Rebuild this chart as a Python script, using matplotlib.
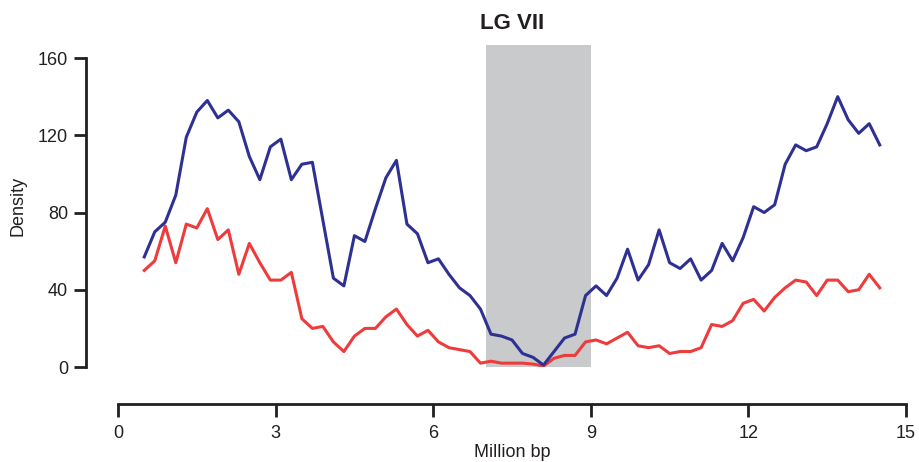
import numpy as np
import matplotlib.pyplot as plt

plt.rcParams['font.family'] = ['Liberation Sans', 'DejaVu Sans']

# positions along the linkage group (Mb), one window every 0.2 Mb
positions = np.round(np.arange(0.5, 14.51, 0.2), 1)

blue_density = [57, 70, 75, 89, 119, 132, 138, 129, 133, 127,
                109, 97, 114, 118, 97, 105, 106, 76, 46, 42,
                68, 65, 82, 98, 107, 74, 69, 54, 56, 48,
                41, 37, 30, 17, 16, 14, 7, 5, 1, 8,
                15, 17, 37, 42, 37, 46, 61, 45, 53, 71,
                54, 51, 56, 45, 50, 64, 55, 67, 83, 80,
                84, 105, 115, 112, 114, 126, 140, 128, 121, 126,
                115]

red_density = [50, 55, 73, 54, 74, 72, 82, 66, 71, 48,
               64, 54, 45, 45, 49, 25, 20, 21, 13, 8,
               16, 20, 20, 26, 30, 22, 16, 19, 13, 10,
               9, 8, 2, 3, 2, 2, 2, 1.5, 0.5, 4.5,
               6, 6, 13, 14, 12, 15, 18, 11, 10, 11,
               7, 8, 8, 10, 22, 21, 24, 33, 35, 29,
               36, 41, 45, 44, 37, 45, 45, 39, 40, 48,
               41]

region_start, region_end = 7, 9
region_top = 167

fig = plt.figure(figsize=(9.19, 4.62), dpi=100)
ax = fig.add_axes([118 / 919, 95 / 462, 788 / 919, 322.5 / 462])

ax.axvspan(region_start, region_end, ymin=0, ymax=1, color='#c8cacb', lw=0, zorder=0)
ax.plot(positions, blue_density, color='#2e3192', lw=2.2, zorder=3)
ax.plot(positions, red_density, color='#ee3b3b', lw=2.2, zorder=2)

ax.set_xlim(0, 15)
ax.set_ylim(0, region_top)
ax.set_xticks([0, 3, 6, 9, 12, 15])
ax.set_yticks([0, 40, 80, 120, 160])

for side in ['top', 'right']:
    ax.spines[side].set_visible(False)
ax.spines['left'].set_position(('outward', 23))
ax.spines['bottom'].set_position(('outward', 26.5))
ax.spines['left'].set_bounds(0, 160)
ax.spines['bottom'].set_bounds(0, 15)
for side in ['left', 'bottom']:
    ax.spines[side].set_linewidth(2)
    ax.spines[side].set_color('#231f20')

ax.tick_params(axis='both', length=9, width=2, color='#231f20',
               labelsize=13, labelcolor='#231f20', pad=4)
ax.tick_params(axis='x', pad=6)

ax.set_xlabel('Million bp', fontsize=13, color='#231f20', labelpad=2)
ax.set_ylabel('Density', fontsize=13, color='#231f20', labelpad=8)
ax.set_title('LG VII', fontsize=16, fontweight='bold', color='#231f20', pad=11)

fig.savefig('out.png', dpi=100)
